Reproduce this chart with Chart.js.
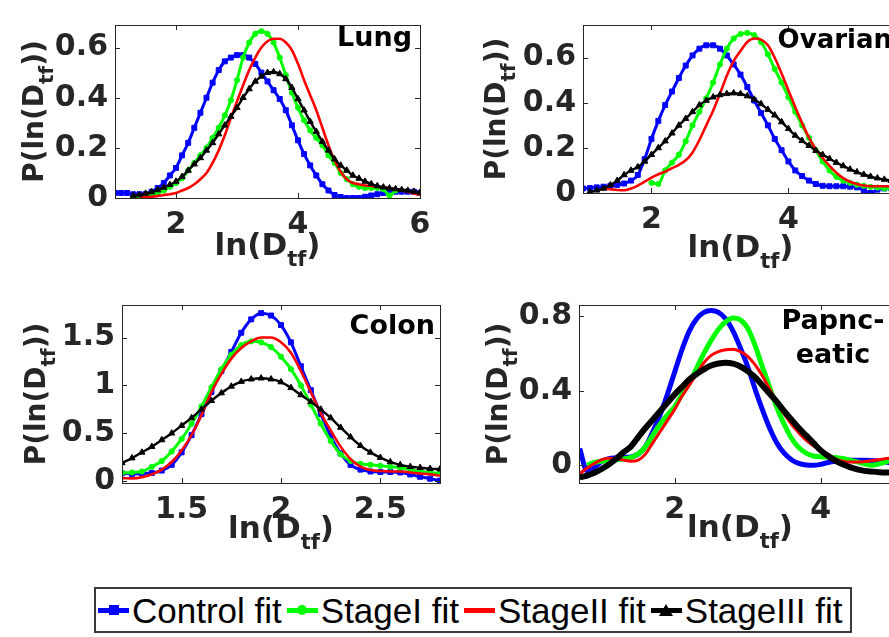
<!DOCTYPE html>
<html>
<head>
<meta charset="utf-8">
<script src="https://cdn.jsdelivr.net/npm/chart.js@4.4.1/dist/chart.umd.min.js"></script>
<style>
  html, body { margin: 0; padding: 0; background: #fff; }
  #page { position: relative; width: 889px; height: 637px; overflow: hidden; background: #fff; }
  #page canvas { position: absolute; }
  #legend {
    position: absolute; left: 94px; top: 587px; width: 758px; height: 46px;
    box-sizing: border-box; border: 2px solid #3a3a3a; background: #fff;
    display: flex; align-items: center; padding-left: 2px;
    font: 35px "Liberation Sans", Arial, sans-serif; line-height: 1; color: #000;
    white-space: nowrap; overflow: hidden;
  }
  #legend .item { display: flex; align-items: center; margin-right: 5px; }
  #legend .sym { position: relative; width: 31px; height: 5px; margin-right: 3px; }
  #legend .sym i { position: absolute; left: 50%; top: 50%; transform: translate(-50%, -50%); }
  #legend .rect { width: 10px; height: 10px; }
  #legend .circle { width: 10px; height: 10px; border-radius: 50%; }
  #legend .triangle { width: 0; height: 0; border-left: 7px solid transparent; border-right: 7px solid transparent; border-bottom-width: 12px; border-bottom-style: solid; }
</style>
</head>
<body>
<div id="page">
  <canvas id="lung" width="440" height="280" style="left:0;top:0"></canvas>
  <canvas id="ovarian" width="480" height="280" style="left:440px;top:0"></canvas>
  <canvas id="colon" width="450" height="290" style="left:0;top:280px"></canvas>
  <canvas id="pancreatic" width="480" height="290" style="left:440px;top:280px"></canvas>
  <div id="legend"></div>
</div>
<script>
// ---- data ----
const seriesNames = ['Control fit', 'StageI fit', 'StageII fit', 'StageIII fit'];
const xTitleParts = ['ln(D', 'tf', ')'];
const yTitleParts = ['P(ln(D', 'tf', '))'];

// Lung
const lungX = [1.0,1.1,1.2,1.3,1.4,1.5,1.6,1.7,1.8,1.9,2.0,2.1,2.2,2.3,2.4,2.5,2.6,2.7,2.8,2.9,
  3.0,3.1,3.2,3.3,3.4,3.5,3.6,3.7,3.8,3.9,4.0,4.1,4.2,4.3,4.4,4.5,4.6,4.7,4.8,4.9,
  5.0,5.1,5.2,5.3,5.4,5.5,5.6,5.7,5.8,5.9,6.0];
const lungControl = [0.02,0.02,0.02,0.015,0.015,0.015,0.025,0.04,0.06,0.09,
  0.12,0.17,0.22,0.28,0.34,0.40,0.46,0.51,0.545,0.56,
  0.57,0.57,0.56,0.535,0.5,0.465,0.43,0.395,0.35,0.29,
  0.23,0.175,0.13,0.09,0.055,0.03,0.012,0.004,0,0,
  0,0.005,0.01,0.015,0.02,0.025,0.025,0.025,0.025,0.025,0.02];
const lungStageI = [null,null,null,0,0.005,0.01,0.015,0.02,0.03,0.045,
  0.06,0.08,0.11,0.14,0.17,0.2,0.24,0.28,0.33,0.39,
  0.47,0.56,0.62,0.655,0.665,0.655,0.62,0.56,0.49,0.42,
  0.36,0.31,0.27,0.24,0.21,0.17,0.14,0.1,0.075,0.055,
  0.045,0.04,0.04,0.04,0.035,0.01,0.03,null,null,null,null];
const lungStageII = [null,null,null,null,0.005,0.005,0.005,0.008,0.012,0.015,
  0.02,0.03,0.04,0.055,0.075,0.1,0.14,0.19,0.25,0.32,
  0.385,0.45,0.51,0.56,0.6,0.625,0.635,0.635,0.62,0.59,
  0.535,0.47,0.41,0.35,0.28,0.21,0.15,0.105,0.075,0.06,
  0.055,0.05,0.048,0.045,0.042,0.04,0.035,0.03,0.025,0.018,0.012];
const lungStageIII = [null,null,null,0.01,0.012,0.018,0.024,0.032,0.042,0.053,
  0.066,0.085,0.11,0.135,0.16,0.19,0.22,0.255,0.29,0.325,
  0.36,0.4,0.435,0.465,0.485,0.5,0.503,0.495,0.475,0.44,
  0.395,0.35,0.305,0.265,0.225,0.19,0.155,0.13,0.11,0.09,
  0.078,0.066,0.056,0.048,0.043,0.039,0.036,0.033,0.03,0.026,0.022];

// Ovarian
const ovarianX = [1.0,1.1,1.2,1.3,1.4,1.5,1.6,1.7,1.8,1.9,2.0,2.1,2.2,2.3,2.4,2.5,2.6,2.7,2.8,2.9,
  3.0,3.1,3.2,3.3,3.4,3.5,3.6,3.7,3.8,3.9,4.0,4.1,4.2,4.3,4.4,4.5,4.6,4.7,4.8,4.9,
  5.0,5.1,5.2,5.3,5.4,5.5,5.6];
const ovarianControl = [0.02,0.022,0.025,0.028,0.032,0.036,0.042,0.055,0.08,0.15,
  0.24,0.32,0.39,0.45,0.51,0.565,0.61,0.64,0.655,0.655,
  0.64,0.61,0.57,0.525,0.47,0.41,0.355,0.3,0.24,0.19,
  0.14,0.1,0.075,0.055,0.04,0.032,0.03,0.03,0.03,0.028,
  0.025,0.012,0.0,0.015,0.02,0.02,0.02];
const ovarianStageI = [null,null,null,null,null,null,null,null,null,null,
  0.045,0.04,0.1,0.135,0.17,0.23,0.3,0.36,0.42,0.49,
  0.57,0.64,0.685,0.705,0.71,0.7,0.67,0.615,0.55,0.49,
  0.425,0.36,0.3,0.245,0.19,0.14,0.1,0.072,0.055,0.045,
  0.037,0.032,0.027,0.024,0.02,0.018,0.015];
const ovarianStageII = [null,null,null,0.02,0.017,0.013,0.012,0.02,0.033,0.05,
  0.068,0.083,0.095,0.11,0.125,0.145,0.18,0.235,0.3,0.365,
  0.44,0.52,0.585,0.63,0.67,0.685,0.68,0.655,0.6,0.53,
  0.455,0.38,0.31,0.245,0.195,0.155,0.12,0.09,0.066,0.05,
  0.04,0.033,0.03,0.03,0.03,0.03,0.03];
const ovarianStageIII = [null,0.005,0.012,0.02,0.035,0.055,0.08,0.1,0.115,0.14,
  0.17,0.2,0.23,0.265,0.3,0.33,0.36,0.39,0.41,0.425,
  0.435,0.44,0.443,0.44,0.43,0.415,0.395,0.37,0.345,0.315,
  0.285,0.255,0.232,0.21,0.188,0.17,0.152,0.135,0.12,0.105,
  0.093,0.082,0.073,0.066,0.06,0.055,0.05];

// Colon
const colonX = [1.2,1.25,1.3,1.35,1.4,1.45,1.5,1.55,1.6,1.65,1.7,1.75,1.8,1.85,1.9,1.95,2.0,
  2.05,2.1,2.15,2.2,2.25,2.3,2.35,2.4,2.45,2.5,2.55,2.6,2.65,2.7,2.75,2.8];
const colonControl = [0.08,0.075,0.08,0.085,0.11,0.17,0.3,0.48,0.7,
  0.93,1.15,1.35,1.55,1.69,1.755,1.73,1.63,
  1.45,1.2,0.95,0.7,0.47,0.29,0.17,0.12,
  0.1,0.095,0.095,0.09,0.07,0.045,0.025,0.005];
const colonStageI = [0.085,0.09,0.1,0.15,0.21,0.31,0.44,0.6,0.78,
  0.98,1.17,1.32,1.42,1.46,1.45,1.4,1.3,
  1.17,1.0,0.8,0.6,0.42,0.28,0.21,0.18,
  0.17,0.16,0.15,0.14,0.12,0.1,0.09,0.08];
const colonStageII = [0.03,0.028,0.04,0.07,0.12,0.2,0.32,0.48,0.69,
  0.93,1.12,1.28,1.39,1.46,1.5,1.5,1.45,
  1.34,1.15,0.93,0.71,0.53,0.36,0.23,0.15,
  0.115,0.105,0.1,0.1,0.09,0.08,0.07,0.055];
const colonStageIII = [0.19,0.24,0.3,0.36,0.43,0.5,0.58,0.66,0.75,
  0.84,0.92,0.99,1.04,1.065,1.075,1.065,1.035,
  0.975,0.9,0.83,0.75,0.66,0.56,0.46,0.37,
  0.3,0.245,0.2,0.17,0.15,0.14,0.13,0.125];

// Pancreatic
const pancX = [0.7,0.8,0.9,1.0,1.1,1.2,1.3,1.4,1.5,1.6,1.7,1.8,1.9,2.0,2.1,2.2,2.3,2.4,2.5,2.6,
  2.7,2.8,2.9,3.0,3.1,3.2,3.3,3.4,3.5,3.6,3.7,3.8,3.9,4.0,4.1,4.2,4.3,4.4,4.5,4.6,
  4.7,4.8,4.9,5.0,5.1];
const pancControl = [0.09,-0.03,-0.01,0.02,0.035,0.04,0.043,0.045,0.06,0.1,
  0.18,0.27,0.38,0.5,0.62,0.72,0.785,0.82,0.83,0.82,
  0.785,0.72,0.63,0.53,0.41,0.3,0.2,0.12,0.065,0.03,
  0.01,0.002,0.0,0.005,0.015,0.022,0.026,0.027,0.027,0.027,
  0.026,0.022,0.017,0.012,0.01];
const pancStageI = [null,0.0,0.015,0.022,0.027,0.03,0.034,0.042,0.06,0.1,
  0.16,0.22,0.27,0.315,0.38,0.44,0.52,0.6,0.67,0.73,
  0.77,0.79,0.78,0.735,0.645,0.53,0.42,0.31,0.22,0.145,
  0.095,0.065,0.05,0.046,0.044,0.042,0.036,0.028,0.018,0.008,
  0.0,0.008,0.02,0.03,0.035];
const pancStageII = [-0.045,-0.015,0.01,0.03,0.038,0.035,0.028,0.022,0.028,0.06,
  0.12,0.18,0.24,0.3,0.37,0.43,0.49,0.55,0.59,0.61,
  0.62,0.623,0.61,0.585,0.54,0.48,0.41,0.34,0.275,0.22,
  0.175,0.135,0.105,0.08,0.06,0.035,0.022,0.017,0.017,0.02,
  0.025,0.03,0.037,0.04,0.042];
const pancStageIII = [-0.065,-0.055,-0.04,-0.02,0.005,0.035,0.07,0.1,0.15,0.2,
  0.245,0.29,0.335,0.38,0.42,0.46,0.49,0.515,0.535,0.546,
  0.55,0.545,0.53,0.505,0.473,0.43,0.385,0.34,0.29,0.245,
  0.2,0.16,0.12,0.08,0.05,0.025,0.005,-0.01,-0.022,-0.03,
  -0.034,-0.037,-0.038,-0.038,-0.038];

// tick values
const lungXTicks = [2, 4, 6], lungYTicks = [0, 0.2, 0.4, 0.6];
const ovarianXTicks = [2, 4], ovarianYTicks = [0, 0.2, 0.4, 0.6];
const colonXTicks = [1.5, 2, 2.5], colonYTicks = [0, 0.5, 1, 1.5];
const pancXTicks = [2, 4], pancYTicks = [0, 0.4, 0.8];

// ---- styling ----
const AXIS_GRAY = '#262626';
const TICK_FONT = { family: '"DejaVu Sans", sans-serif', weight: 'bold', size: 30 };
const seriesStyles = [
  { color: '#0000ff', width: 3, point: 'rect', radius: 3.5 },
  { color: '#00ff00', width: 3, point: 'circle', radius: 2.6 },
  { color: '#ff0000', width: 2.6, point: false, radius: 0 },
  { color: '#000000', width: 2.4, point: 'triangle', radius: 3.6 }
];
const thickStyles = [
  { color: '#0000ff', width: 5, point: false, radius: 0 },
  { color: '#00ff00', width: 5, point: false, radius: 0 },
  { color: '#ff0000', width: 3, point: false, radius: 0 },
  { color: '#000000', width: 6, point: false, radius: 0 }
];

function drawParts(ctx, parts, big, small, subDy) {
  const sizes = [big, small, big];
  let total = 0;
  parts.forEach((p, i) => { ctx.font = 'bold ' + sizes[i] + 'px "DejaVu Sans"'; total += ctx.measureText(p).width; });
  let x = -total / 2;
  parts.forEach((p, i) => {
    ctx.font = 'bold ' + sizes[i] + 'px "DejaVu Sans"';
    ctx.fillText(p, x, i === 1 ? subDy : 0);
    x += ctx.measureText(p).width;
  });
}

const framePlugin = {
  id: 'frame',
  afterDraw(chart, args, o) {
    const { ctx, chartArea: a, scales: { x, y } } = chart;
    ctx.save();
    ctx.strokeStyle = AXIS_GRAY;
    ctx.lineWidth = 1;
    ctx.strokeRect(Math.round(a.left) + 0.5, Math.round(a.top) + 0.5, Math.round(a.right - a.left), Math.round(a.bottom - a.top));
    ctx.beginPath();
    x.ticks.forEach(t => {
      const px = Math.round(x.getPixelForValue(t.value)) + 0.5;
      ctx.moveTo(px, a.bottom); ctx.lineTo(px, a.bottom - 5);
      ctx.moveTo(px, a.top); ctx.lineTo(px, a.top + 5);
    });
    y.ticks.forEach(t => {
      const py = Math.round(y.getPixelForValue(t.value)) + 0.5;
      ctx.moveTo(a.left, py); ctx.lineTo(a.left + 5, py);
      ctx.moveTo(a.right, py); ctx.lineTo(a.right - 5, py);
    });
    ctx.stroke();

    ctx.fillStyle = AXIS_GRAY;
    ctx.textBaseline = 'alphabetic';
    ctx.textAlign = 'left';
    // x title
    ctx.save();
    ctx.translate((a.left + a.right) / 2, a.bottom + o.xDy);
    drawParts(ctx, xTitleParts, 31, 21, 11);
    ctx.restore();
    // y title
    ctx.save();
    ctx.translate(a.left + o.yDx, (a.top + a.bottom) / 2);
    ctx.rotate(-Math.PI / 2);
    drawParts(ctx, yTitleParts, 28, 20, 10);
    ctx.restore();
    // panel title
    ctx.fillStyle = '#000';
    ctx.textAlign = o.titleAlign;
    ctx.font = 'bold ' + o.titleSize + 'px "DejaVu Sans"';
    o.title.split('\n').forEach((line, i) => {
      ctx.fillText(line, a.right + o.titleDx, a.top + o.titleBase[i]);
    });
    ctx.restore();
  }
};

function makeChart(id, p) {
  const canvas = document.getElementById(id);
  const W = canvas.width, H = canvas.height;
  const datasets = p.ys.map((ys, i) => {
    const s = p.styles[i];
    return {
      label: seriesNames[i],
      data: p.xs.map((x, j) => ({ x: x, y: ys[j] })),
      borderColor: s.color,
      backgroundColor: s.color,
      borderWidth: s.width,
      pointStyle: s.point,
      pointRadius: s.radius,
      pointBorderWidth: 1,
      pointBorderColor: s.color,
      pointBackgroundColor: s.color,
      cubicInterpolationMode: 'monotone',
      borderJoinStyle: 'round',
      spanGaps: false,
      order: 4 - i
    };
  });
  return new Chart(canvas, {
    type: 'line',
    data: { datasets },
    options: {
      responsive: false,
      animation: false,
      events: [],
      layout: { padding: { left: 0, top: p.area.top, right: W - p.area.right, bottom: 0 } },
      plugins: {
        legend: { display: false },
        tooltip: { enabled: false },
        frame: p.frame
      },
      scales: {
        x: {
          type: 'linear', min: p.xMin, max: p.xMax,
          afterFit: s => { s.height = H - p.area.bottom; },
          afterBuildTicks: s => { s.ticks = p.xTicks.map(v => ({ value: v })); },
          grid: { display: false, drawTicks: false },
          border: { display: false },
          ticks: { font: TICK_FONT, color: AXIS_GRAY, padding: 9, maxRotation: 0, autoSkip: false, callback: v => String(v) }
        },
        y: {
          type: 'linear', min: p.yMin, max: p.yMax,
          afterFit: s => { s.width = p.area.left; },
          afterBuildTicks: s => { s.ticks = p.yTicks.map(v => ({ value: v })); },
          grid: { display: false, drawTicks: false },
          border: { display: false },
          ticks: { font: TICK_FONT, color: AXIS_GRAY, padding: 7, autoSkip: false, callback: v => String(v) }
        }
      }
    },
    plugins: [framePlugin]
  });
}

makeChart('lung', {
  xs: lungX, ys: [lungControl, lungStageI, lungStageII, lungStageIII], styles: seriesStyles,
  xMin: 1, xMax: 6, yMin: 0, yMax: 0.69, xTicks: lungXTicks, yTicks: lungYTicks,
  area: { left: 115, right: 420, top: 10, bottom: 198 },
  frame: { xDy: 57, yDx: -72, title: 'Lung', titleAlign: 'right', titleDx: -8, titleSize: 27, titleBase: [21] }
});
makeChart('ovarian', {
  xs: ovarianX, ys: [ovarianControl, ovarianStageI, ovarianStageII, ovarianStageIII], styles: seriesStyles,
  xMin: 1, xMax: 5.6, yMin: 0, yMax: 0.745, xTicks: ovarianXTicks, yTicks: ovarianYTicks,
  area: { left: 143, right: 458, top: 10, bottom: 193 },
  frame: { xDy: 64, yDx: -78, title: 'Ovarian', titleAlign: 'right', titleDx: -6, titleSize: 26, titleBase: [23] }
});
makeChart('colon', {
  xs: colonX, ys: [colonControl, colonStageI, colonStageII, colonStageIII], styles: seriesStyles,
  xMin: 1.2, xMax: 2.8, yMin: -0.02, yMax: 1.84, xTicks: colonXTicks, yTicks: colonYTicks,
  area: { left: 122, right: 440, top: 19, bottom: 203 },
  frame: { xDy: 55, yDx: -77, title: 'Colon', titleAlign: 'right', titleDx: -5, titleSize: 27, titleBase: [29] }
});
makeChart('pancreatic', {
  xs: pancX, ys: [pancControl, pancStageI, pancStageII, pancStageIII], styles: thickStyles,
  xMin: 0.69, xMax: 5.1, yMin: -0.095, yMax: 0.86, xTicks: pancXTicks, yTicks: pancYTicks,
  area: { left: 139, right: 461, top: 19, bottom: 203 },
  frame: { xDy: 54, yDx: -72, title: 'Papnc-\neatic', titleAlign: 'center', titleDx: -68, titleSize: 27, titleBase: [24, 58] }
});

// legend
const legend = document.getElementById('legend');
seriesNames.forEach((name, i) => {
  const s = seriesStyles[i];
  const item = document.createElement('span');
  item.className = 'item';
  const sym = document.createElement('span');
  sym.className = 'sym';
  sym.style.background = s.color;
  if (s.point) {
    const m = document.createElement('i');
    m.className = s.point;
    if (s.point === 'triangle') m.style.borderBottomColor = s.color;
    else m.style.background = s.color;
    sym.appendChild(m);
  }
  item.appendChild(sym);
  item.appendChild(document.createTextNode(name));
  legend.appendChild(item);
});
</script>
</body>
</html>
